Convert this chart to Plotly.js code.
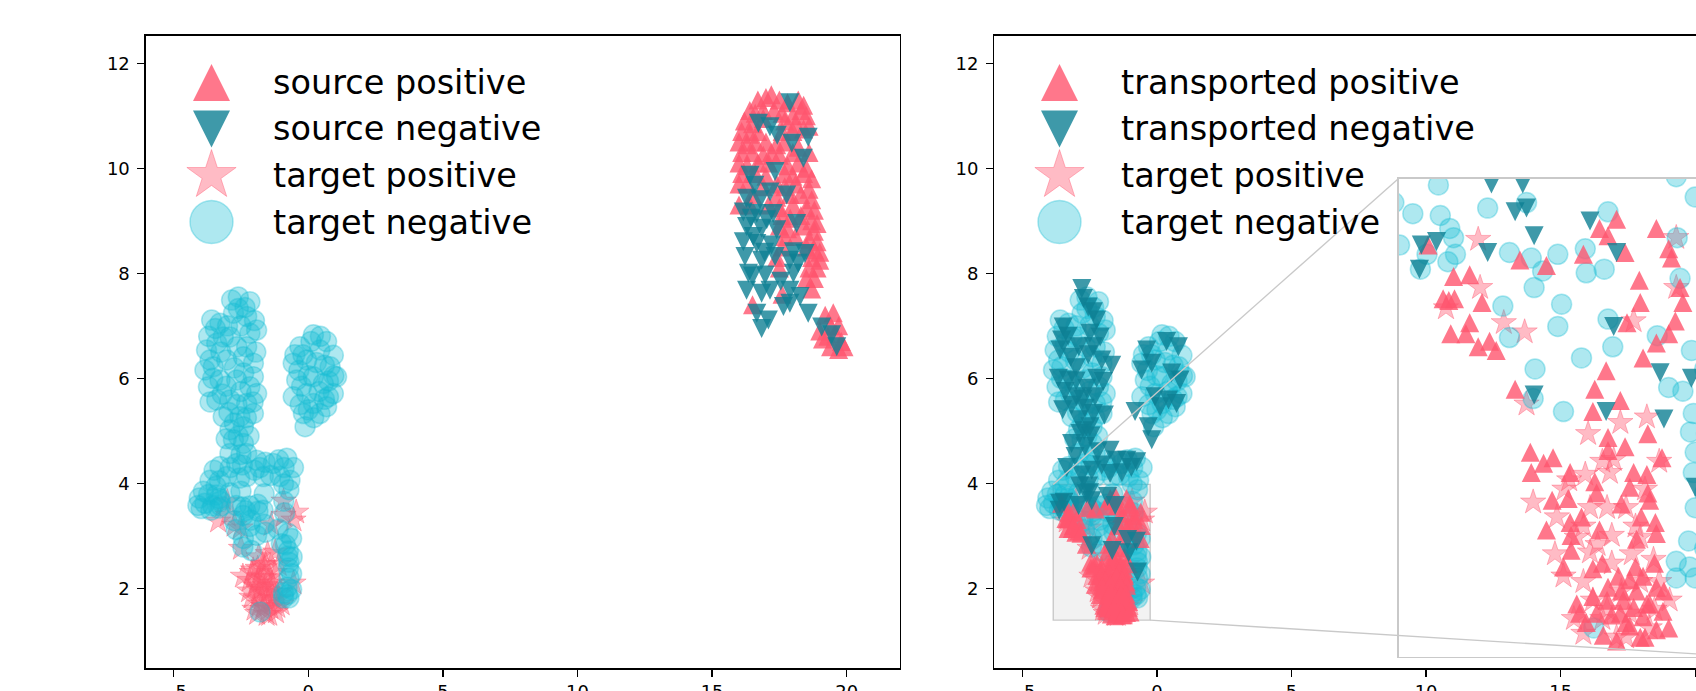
<!DOCTYPE html>
<html><head><meta charset="utf-8">
<script src="https://cdn.plot.ly/plotly-3.0.1.min.js"></script>
<style>html,body{margin:0;padding:0;background:#fff;}#chart{width:1696px;height:691px;}</style>
</head><body><div id="chart"></div>
<script>
// ---------------- data ----------------
const sourcePositive = [
[16.7,11.3],[17.0,11.35],[17.2,11.4],[17.5,11.3],[17.8,11.25],[18.2,11.3],[18.4,11.2],
[16.4,11.1],[16.6,11.05],[16.9,11.1],[17.3,11.1],[17.6,11.05],[18.0,11.0],[18.3,11.1],[18.5,11.0],
[16.2,10.9],[16.5,10.85],[16.9,10.95],[17.7,10.9],[18.1,10.85],[18.6,10.8],
[16.1,10.7],[16.4,10.65],[16.7,10.7],[17.6,10.7],[18.0,10.7],[18.4,10.75],
[16.0,10.5],[16.3,10.45],[16.6,10.5],[17.0,10.5],[17.4,10.45],[17.7,10.5],[18.2,10.4],
[16.1,10.3],[16.5,10.3],[16.9,10.25],[17.2,10.3],[17.5,10.25],[18.0,10.3],[18.6,10.3],
[16.0,10.1],[16.3,10.05],[16.7,10.1],[17.1,10.1],[17.8,10.05],[18.2,10.1],[18.5,10.0],
[16.1,9.9],[16.6,9.9],[17.0,9.85],[17.7,9.9],[18.0,9.85],[18.4,9.9],[18.7,9.8],
[16.0,9.7],[16.3,9.7],[16.9,9.65],[17.4,9.7],[17.7,9.65],[18.1,9.7],[18.6,9.6],
[16.5,9.5],[17.4,9.45],[17.9,9.5],[18.3,9.5],[18.7,9.4],
[16.0,9.3],[16.4,9.3],[17.1,9.3],[17.5,9.25],[18.0,9.3],[18.5,9.25],[18.8,9.2],
[17.6,9.1],[17.9,9.05],[18.3,9.1],[18.7,9.0],
[17.5,8.9],[17.8,8.85],[18.4,8.9],[18.8,8.8],[18.9,8.95],
[17.7,8.7],[18.1,8.7],[18.6,8.65],[18.9,8.6],
[17.6,8.5],[18.5,8.5],[18.8,8.45],[19.0,8.4],
[17.4,8.3],[18.7,8.3],[19.0,8.25],
[17.5,8.1],[18.6,8.1],[18.9,8.1],
[18.5,7.9],[18.8,7.9],[18.7,7.7],[17.6,7.6],[16.5,7.4],
[19.2,7.2],[19.5,7.25],[19.4,7.0],[19.7,7.0],[19.0,6.9],[19.3,6.8],[19.6,6.85],[19.8,6.7],
[19.4,6.6],[19.7,6.55],[19.9,6.6],[19.1,6.75]
];
const sourceNegative = [
[17.89,11.25],[16.72,10.86],[17.15,10.79],[17.42,10.63],[18.57,10.59],[17.96,10.48],[18.39,10.19],
[17.34,9.94],[16.41,9.87],[16.59,9.68],[17.15,9.55],[17.77,9.49],[16.28,9.43],[16.78,9.40],
[16.16,9.17],[16.66,9.14],[17.27,9.14],[18.14,8.95],[16.28,8.89],[16.84,8.86],[17.40,8.83],
[16.16,8.60],[16.66,8.57],[17.21,8.54],[18.02,8.41],[18.45,8.38],[16.22,8.32],[16.84,8.25],
[17.34,8.32],[17.89,8.25],[18.20,8.19],[16.35,8.00],[16.97,7.97],[18.02,8.00],[16.28,7.68],
[16.84,7.62],[17.15,7.68],[17.89,7.68],[18.27,7.56],[16.66,7.24],[17.09,7.11],[16.84,6.95],
[17.89,7.43],[18.57,7.24],[19.07,6.98],[19.44,6.83],[19.63,6.60],[17.65,7.37],[16.53,8.70],[17.03,9.02],
[16.45,9.05],[16.95,8.40],[16.50,7.95],[17.55,7.85]
];
const targetPositive = [
[-3.01,3.65],[-2.99,3.39],[-2.74,3.20],[-2.52,3.15],[-2.50,2.76],[-1.51,2.66],[-1.23,2.69],
[-1.62,2.39],[-1.88,2.38],[-2.43,2.23],[-2.18,2.15],[-1.83,2.20],[-1.97,2.04],[-1.83,1.96],
[-2.11,1.83],[-1.39,1.95],[-1.16,1.92],[-0.99,1.70],[-1.90,1.52],[-1.41,1.63],[-0.92,3.66],
[-0.92,3.39],[-1.37,3.21],[-1.58,2.46],[-1.30,2.04],
[-1.70,1.60],[-1.50,1.75],[-1.60,1.90],[-1.80,1.70],[-1.30,1.80],[-1.55,1.50],[-1.75,2.00],
[-1.45,2.20],[-2.00,1.60],[-1.20,1.55],[-3.35,3.28],[-0.45,3.45],[-0.55,3.30],[-0.55,2.10],
[-2.20,1.95],[-1.90,1.80],[-1.65,2.20],[-1.10,1.80],[-1.65,1.65],[-2.05,2.35],
[-1.85,2.60],[-2.10,2.30],[-1.45,1.50],[-1.15,1.65],[-1.25,2.30],[-1.10,2.45],[-1.60,2.05],
[-1.35,2.10],[-1.90,2.10],[-1.70,2.45]
];
const targetNegative = [
// upper left arm
[-2.85,7.49],[-2.17,7.46],[-2.60,7.33],[-3.59,7.11],[-3.28,7.05],[-2.78,7.24],[-2.29,7.18],
[-3.78,6.54],[-3.40,6.67],[-2.91,6.79],[-2.17,6.86],[-1.92,6.92],[-3.84,6.16],[-3.53,6.22],
[-3.03,6.35],[-2.41,6.41],[-2.04,6.29],[-3.71,5.84],[-3.28,5.97],[-2.66,5.97],[-2.17,5.84],
[-1.92,5.71],[-3.40,5.59],[-2.91,5.59],[-2.29,5.52],[-3.16,5.27],[-2.54,5.27],[-2.04,5.33],
[-2.91,5.02],[-2.41,5.08],[-2.04,6.03],[-2.29,6.60],[-3.16,6.79],[-3.65,6.35],
[-3.45,6.95],[-3.00,7.00],[-2.50,7.00],[-2.00,7.10],[-3.70,6.80],[-2.65,6.60],[-3.25,6.50],
[-2.75,6.20],[-3.55,6.00],[-2.40,6.10],[-3.05,5.85],[-2.50,5.75],[-1.95,6.50],[-3.65,5.55],
[-3.20,5.70],[-2.65,5.50],[-2.05,5.55],[-2.95,5.35],[-2.30,5.25],[-2.75,5.15],[-2.20,4.90],
[-3.05,4.85],[-2.60,7.55],[-2.35,7.35],
// neck
[-2.78,4.83],[-2.41,4.76],[-2.91,4.57],[-2.29,4.57],[-2.60,4.90],[-2.50,4.55],
// right lobe
[0.19,6.83],[0.68,6.70],[-0.31,6.60],[0.43,6.54],[0.93,6.44],[-0.56,6.29],[-0.06,6.35],
[0.81,6.22],[1.05,6.03],[-0.43,5.97],[0.19,6.03],[0.56,5.90],[-0.56,5.65],[-0.06,5.71],
[0.93,5.71],[0.19,5.52],[0.68,5.46],[-0.18,5.33],[0.43,5.33],[-0.12,5.08],
[0.10,6.70],[0.45,6.80],[-0.20,6.45],[0.60,6.25],[0.30,6.30],[-0.35,6.15],[0.00,6.05],
[0.75,5.95],[-0.25,5.85],[0.40,5.75],[0.75,5.65],[-0.30,5.50],[0.00,5.40],[0.60,5.60],
[0.20,5.25],[0.95,6.05],[-0.50,6.45],
// lower part
[-3.28,4.32],[-2.66,4.38],[-1.92,4.44],[-1.30,4.38],[-0.80,4.48],[-3.03,4.13],[-2.29,4.13],
[-1.67,4.13],[-1.05,4.13],[-0.68,4.06],[-3.65,4.06],[-2.00,4.25],[-4.05,3.72],[-3.98,3.52],
[-3.50,4.25],[-2.90,4.30],[-2.45,4.35],[-1.60,4.40],[-1.10,4.45],[-0.55,4.30],[-1.40,4.15],
[-2.55,4.10],[-3.30,4.05],[-0.90,4.30],[-1.80,4.30],[-3.90,3.85],[-4.10,3.58],
[-3.43,3.945],[-3.70,3.79],[-3.41,3.78],[-2.91,3.82],[-2.50,3.85],[-3.84,3.62],[-3.31,3.71],
[-3.27,3.66],[-3.55,3.57],[-3.25,3.57],[-3.62,3.49],[-3.33,3.53],[-2.68,3.58],[-2.45,3.55],
[-2.33,3.48],[-2.42,3.39],[-2.17,3.57],[-1.88,3.60],[-1.64,3.80],[-1.87,3.47],[-1.68,3.49],
[-2.75,3.29],[-2.68,3.12],[-2.13,3.30],[-2.17,3.18],[-1.64,3.22],[-1.59,3.07],[-1.92,3.01],
[-2.41,2.95],[-2.43,2.79],[-2.11,2.72],[-1.00,2.85],[-0.85,2.83],[-1.12,3.13],[-0.88,3.44],
[-0.91,3.66],[-0.72,3.88],[-0.92,3.99],[-0.76,3.05],[-0.74,2.71],[-0.77,2.61],[-0.72,2.50],
[-0.74,2.39],[-0.72,2.20],[-0.79,2.02],[-0.92,1.91],[-0.78,1.88],[-0.92,1.82],[-0.72,1.82],
[-1.79,1.55],[-0.62,2.95],[-0.60,2.60],[-0.62,2.28],[-0.62,1.98]
];
const transportedPositive = [
[-3.54,3.62],[-3.27,3.45],[-3.10,3.46],[-3.38,3.33],[-3.26,3.33],[-3.32,3.32],[-2.97,3.31],
[-3.10,3.20],[-3.30,3.14],[-3.14,3.14],[-3.01,3.07],[-2.89,3.10],[-2.82,3.05],
[-2.57,3.54],[-2.29,3.51],[-1.90,3.57],[-1.73,3.71],[-1.55,3.76],[-1.64,3.67],[-1.46,3.58],
[-1.13,3.71],[-1.00,3.60],[-0.97,3.55],[-1.31,3.43],[-1.30,3.31],[-0.88,3.39],[-0.85,3.31],
[-0.93,3.21],[-1.00,3.14],[-1.44,3.20],[-1.13,3.09],[-1.27,3.01],[-1.66,2.94],[-2.62,2.84],
[-1.78,2.84],[-1.51,2.78],[-1.80,2.72],[-1.64,2.58],[-1.46,2.53],[-1.64,2.51],[-1.22,2.60],
[-1.07,2.47],[-2.46,2.50],[-2.32,2.44],[-2.22,2.47],[-2.04,2.39],[-2.45,2.39],[-1.78,2.34],
[-1.76,2.28],[-1.37,2.39],[-1.23,2.38],[-1.41,2.31],[-1.22,2.28],[-1.20,2.24],[-2.23,2.24],
[-2.06,2.25],[-1.50,2.22],[-1.92,2.15],[-2.04,2.12],[-2.29,2.08],[-2.03,2.05],[-1.73,2.08],
[-1.29,2.15],[-1.14,2.12],[-1.13,2.06],[-1.34,2.03],[-2.03,1.97],[-2.11,1.88],[-1.80,1.87],
[-1.53,1.83],[-1.64,1.77],[-1.94,1.63],[-1.87,1.58],[-1.76,1.63],[-1.69,1.51],[-1.48,1.70],
[-1.51,1.63],[-1.34,1.75],[-1.27,1.83],[-1.23,1.68],[-1.13,1.77],[-1.06,1.64],[-1.41,1.56],
[-1.30,1.50],[-1.55,1.48],[-1.13,1.54],[-1.27,1.61],[-1.37,1.66],[-1.65,1.70],[-1.97,1.68],
[-1.80,1.72],[-1.41,1.81],
[-1.45,1.58],[-1.20,1.68],[-1.60,1.62],[-1.05,1.75],[-1.25,1.50],[-1.50,1.75],[-1.35,1.88],
[-1.15,1.90],[-1.70,1.90],[-1.00,1.55],[-0.60,3.45],[-0.58,3.20],[-0.62,2.95]
];
const transportedNegative = [
[-2.79,7.71],[-2.73,7.52],[-2.55,7.36],[-2.36,7.27],[-2.24,7.11],[-3.48,6.98],[-3.54,6.73],
[-3.60,6.54],[-2.49,6.86],[-2.11,6.79],[-2.36,6.60],[-2.55,6.45],[-1.68,6.25],[-3.66,6.00],
[-3.29,5.97],[-2.24,6.00],[-1.99,5.94],[-3.41,5.75],[-2.98,5.65],[-2.61,5.81],[-2.30,5.65],
[-3.17,5.49],[-2.67,5.43],[-2.36,5.33],[-2.92,5.21],[-2.49,5.08],[-2.86,4.95],[-3.17,4.76],
[-2.67,4.70],[-3.04,4.51],[-1.74,4.63],[-1.49,4.44],[-2.05,4.35],[-2.42,4.25],[-2.79,4.16],
[-1.12,4.44],[-0.75,4.41],[-1.74,4.19],[-3.00,6.20],[-3.20,6.40],[-2.70,5.00],[-2.20,4.60],
[-3.30,6.80],[-2.90,6.60],[-3.00,5.95],[-2.75,5.60],[-3.50,5.40],[-2.45,4.90],[-1.95,5.30],
[-2.05,6.35],[-3.35,4.30],[-1.30,4.20],[-0.95,4.30],
[-0.38,6.54],[0.36,6.70],[0.80,6.60],[-0.19,6.29],[-0.57,6.16],[0.55,6.10],[0.86,5.97],
[-0.07,5.65],[0.43,5.59],[0.73,5.52],[0.12,5.46],[-0.81,5.37],[-0.32,5.08],[-0.19,4.83],
[-2.87,3.95],[-2.54,3.95],[-2.62,3.80],[-2.50,3.82],[-3.61,3.62],[-3.45,3.64],[-3.63,3.49],
[-2.91,3.58],[-2.42,3.67],[-1.83,3.75],[-1.55,3.58],[-1.58,3.18],[-2.42,2.81],[-1.66,2.72],
[-1.09,2.93],[-1.05,2.68],[-0.76,2.90],[-0.72,2.31]
];
const legendLeftLabels = ['source positive','source negative','target positive','target negative'];
const legendRightLabels = ['transported positive','transported negative','target positive','target negative'];
const xTickVals = [-5,0,5,10,15,20];
const yTickVals = [2,4,6,8,10,12];

// ---------------- layout geometry ----------------
const W = 1696, H = 691;
const G = {l1:145.7, r1:900, l2:994.3, top:35.7, bot:668.3, inL:1398.6, inT:178.5, inB:656.6, inPxPerX:94.76};
const xRange = [-6.04, 21.98];
const yRange = [0.478, 12.526];
const zoomX = [-3.85, -0.25];
const zoomY = [1.395, 3.98];
const pxX = (G.r1 - G.l1) / (xRange[1] - xRange[0]);
const pxY = (G.bot - G.top) / (yRange[1] - yRange[0]);
const xRange2 = [xRange[0], xRange[0] + (W - G.l2) / pxX];
const xRange3 = [zoomX[0], zoomX[0] + (W - G.inL) / G.inPxPerX];

const RED = 'rgba(255,85,110,0.8)', TEAL = 'rgba(14,127,147,0.8)';
const PINK = 'rgba(255,85,110,0.4)', CYAN = 'rgba(24,188,212,0.35)';
function mk(kind, size) {
  if (kind === 'up') return {symbol:'arrow-down', angle:180, standoff:size/2, size:size, color:RED, line:{width:0}};
  if (kind === 'down') return {symbol:'arrow-down', angle:0, standoff:size/2, size:size, color:TEAL, line:{width:0}};
  if (kind === 'star') return {symbol:'star', size:size, color:PINK, line:{width:1, color:PINK}};
  return {symbol:'circle', size:size, color:CYAN, line:{width:1.5, color:CYAN}};
}
const SZ = {up:19, down:19, star:19, circ:20};
function tr(points, kind, xa, ya) {
  return {type:'scatter', mode:'markers', x:points.map(p=>p[0]), y:points.map(p=>p[1]),
    xaxis:xa, yaxis:ya, marker:mk(kind, SZ[kind]), hoverinfo:'skip'};
}
const traces = [
  tr(sourcePositive,'up','x','y'), tr(sourceNegative,'down','x','y'),
  tr(targetPositive,'star','x','y'), tr(targetNegative,'circ','x','y'),
  tr(targetPositive,'star','x2','y2'), tr(targetNegative,'circ','x2','y2'),
  tr(transportedPositive,'up','x2','y2'), tr(transportedNegative,'down','x2','y2'),
  tr(targetPositive,'star','x3','y3'), tr(targetNegative,'circ','x3','y3'),
  tr(transportedPositive,'up','x3','y3'), tr(transportedNegative,'down','x3','y3')
];

// legend (drawn on a pixel-space overlay axis)
const legRows = [82.5, 129, 175.5, 222];
const legMarkX = [211.5, 1059.5];
const legTextX = [271, 1119];
const legKinds = ['up','down','star','circ'];
const legSizes = {up:37, down:37, star:37, circ:43};
legKinds.forEach((k,i) => {
  traces.push({type:'scatter', mode:'markers', x:legMarkX, y:[legRows[i], legRows[i]],
    xaxis:'x4', yaxis:'y4', cliponaxis:false, marker:mk(k, legSizes[k]), hoverinfo:'skip'});
});
const annotations = [];
[legendLeftLabels, legendRightLabels].forEach((labels, j) => {
  labels.forEach((t,i) => annotations.push({text:t, xref:'paper', yref:'paper',
    x:legTextX[j]/W, y:1 - legRows[i]/H, xanchor:'left', yanchor:'middle', showarrow:false,
    font:{family:'DejaVu Sans', size:33.5, color:'#000'}}));
});

// inset marks
const dx2 = v => G.l2 + (v - xRange2[0]) * pxX;
const dy = v => G.top + (yRange[1] - v) * pxY;
const insetR = G.inL + (zoomX[1] - zoomX[0]) * G.inPxPerX;
const GRAY = '#c9c9c9';
const shapes = [
  {type:'rect', xref:'x2', yref:'y2', x0:zoomX[0], x1:zoomX[1], y0:zoomY[0], y1:zoomY[1],
   fillcolor:'#f2f2f2', line:{color:GRAY, width:1.4}, layer:'below'},
  {type:'line', xref:'paper', yref:'paper', x0:dx2(zoomX[0])/W, y0:1-dy(zoomY[1])/H, x1:G.inL/W, y1:1-G.inT/H,
   line:{color:GRAY, width:1.4}},
  {type:'line', xref:'paper', yref:'paper', x0:dx2(zoomX[1])/W, y0:1-dy(zoomY[0])/H, x1:insetR/W, y1:1-G.inB/H,
   line:{color:GRAY, width:1.4}}
];

const tickFont = {family:'DejaVu Sans', size:18, color:'#000'};
const yDom = [1 - G.bot/H, 1 - G.top/H];
const baseAx = {showgrid:false, zeroline:false, showline:true, linecolor:'#000', linewidth:1.3,
  ticks:'outside', ticklen:7, tickwidth:1.3, tickcolor:'#000', tickfont:tickFont, fixedrange:true};
const layout = {
  width:W, height:H, margin:{l:0,r:0,t:0,b:0,pad:0}, showlegend:false,
  paper_bgcolor:'#fff', plot_bgcolor:'rgba(0,0,0,0)',
  xaxis: Object.assign({}, baseAx, {domain:[G.l1/W, G.r1/W], range:xRange, mirror:true, anchor:'y', tickvals:xTickVals}),
  yaxis: Object.assign({}, baseAx, {domain:yDom, range:yRange, mirror:true, anchor:'x', tickvals:yTickVals, ticklabelstandoff:4}),
  xaxis2: Object.assign({}, baseAx, {domain:[G.l2/W, 1], range:xRange2, mirror:true, anchor:'y2', tickvals:xTickVals}),
  yaxis2: Object.assign({}, baseAx, {domain:yDom, range:yRange, mirror:false, anchor:'x2', tickvals:yTickVals, ticklabelstandoff:4}),
  xaxis3: {domain:[G.inL/W, 1], range:xRange3, anchor:'y3', showgrid:false, zeroline:false, showline:true,
    mirror:true, linecolor:GRAY, linewidth:1.6, ticks:'', showticklabels:false, fixedrange:true},
  yaxis3: {domain:[1 - G.inB/H, 1 - G.inT/H], range:zoomY, anchor:'x3', showgrid:false, zeroline:false,
    showline:true, mirror:false, linecolor:GRAY, linewidth:1.6, ticks:'', showticklabels:false, fixedrange:true},
  xaxis4: {domain:[0,1], range:[0,W], anchor:'y4', visible:false, fixedrange:true},
  yaxis4: {domain:[0,1], range:[H,0], anchor:'x4', visible:false, fixedrange:true},
  shapes: shapes, annotations: annotations
};
Plotly.newPlot('chart', traces, layout, {staticPlot:true, displayModeBar:false});
</script></body></html>
